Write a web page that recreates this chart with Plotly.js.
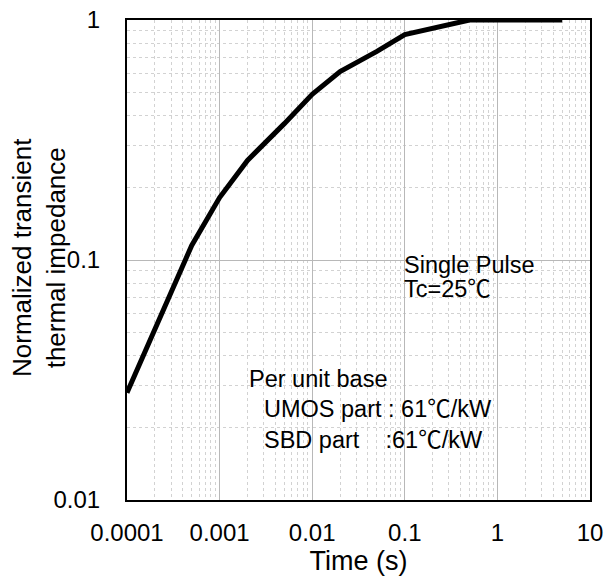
<!DOCTYPE html>
<html>
<head>
<meta charset="utf-8">
<script src="https://cdn.plot.ly/plotly-3.0.1.min.js"></script>
<style>html,body{margin:0;padding:0;background:#fff;}#chart{width:606px;height:582px;}</style>
</head>
<body>
<div id="chart"></div>
<script>
// Data
const timeS = [0.0001, 0.0002, 0.0005, 0.001, 0.002, 0.005, 0.01, 0.02, 0.05, 0.1, 0.5, 1, 5];
const zthNorm = [0.028, 0.052, 0.115, 0.182, 0.26, 0.37, 0.49, 0.61, 0.74, 0.87, 1.0, 1.0, 1.0];

const xTickVals = [0.0001, 0.001, 0.01, 0.1, 1, 10];
const xTickText = ["0.0001", "0.001", "0.01", "0.1", "1", "10"];
const yTickVals = [0.01, 0.1, 1];
const yTickText = ["0.01", "0.1", "1"];

const FONT = "Liberation Sans, Arial, Noto Sans CJK JP, sans-serif";

function minorVals(lo, hi) {
  const v = [];
  for (let e = lo; e < hi; e++) for (let m = 2; m <= 9; m++) v.push(m * Math.pow(10, e));
  return v;
}

const trace = {
  x: timeS, y: zthNorm, type: "scatter", mode: "lines",
  line: {color: "#000", width: 5}, hoverinfo: "skip", showlegend: false
};

const W = 606, H = 582, mL = 127, mR = 16, mT = 20, mB = 82;
const pw = W - mL - mR, ph = H - mT - mB;
const px = v => (v - mL) / pw;
const py = v => (H - mB - v) / ph;

function ann(text, xPix, yPix) {
  return {text: text, xref: "paper", yref: "paper", x: px(xPix), y: py(yPix),
    xanchor: "left", yanchor: "middle", showarrow: false,
    font: {family: FONT, size: 23.5, color: "#000"}};
}

const layout = {
  width: W, height: H,
  margin: {l: mL, r: mR, t: mT, b: mB, pad: 0},
  paper_bgcolor: "#fff", plot_bgcolor: "#fff",
  font: {family: FONT, size: 24, color: "#000"},
  xaxis: {
    type: "log", range: [-4, 1], tickmode: "array", tickvals: xTickVals, ticktext: xTickText,
    showline: true, linewidth: 2, linecolor: "#000", mirror: true, ticks: "", zeroline: false,
    showgrid: true, gridcolor: "#b8b8b8", gridwidth: 1,
    minor: {tickmode: "array", tickvals: minorVals(-4, 1), showgrid: true, gridcolor: "#d2d2d2", griddash: "dot", gridwidth: 1, ticks: ""},
    tickfont: {family: FONT, size: 24, color: "#000"},
    ticklabelstandoff: 10,
    title: {text: "Time (s)", font: {family: FONT, size: 27, color: "#000"}, standoff: 6}
  },
  yaxis: {
    type: "log", range: [-2, 0], tickmode: "array", tickvals: yTickVals, ticktext: yTickText,
    showline: true, linewidth: 2, linecolor: "#000", mirror: true, ticks: "", zeroline: false,
    showgrid: true, gridcolor: "#b8b8b8", gridwidth: 1,
    minor: {tickmode: "array", tickvals: minorVals(-2, 0), showgrid: true, gridcolor: "#d2d2d2", griddash: "dot", gridwidth: 1, ticks: ""},
    tickfont: {family: FONT, size: 24, color: "#000"},
    ticklabelstandoff: 20
  },
  shapes: [
    {type: "rect", xref: "paper", yref: "paper", x0: px(398), x1: px(535), y0: py(302), y1: py(250),
     fillcolor: "#fff", line: {width: 0}, layer: "between"},
    {type: "rect", xref: "paper", yref: "paper", x0: px(243), x1: px(504), y0: py(458), y1: py(366),
     fillcolor: "#fff", line: {width: 0}, layer: "between"}
  ],
  annotations: [
    {text: "Normalized transient<br>thermal impedance", xref: "paper", yref: "paper",
     x: px(39), y: py(258), xanchor: "center", yanchor: "middle", textangle: -90, showarrow: false,
     font: {family: FONT, size: 26, color: "#000"}},
    ann("Single Pulse", 401.7, 264.5),
    ann("Tc=25\u2103", 401.7, 288.5),
    ann("Per unit base", 247.3, 378.5),
    ann("UMOS part : 61\u2103/kW", 261.7, 408.5),
    ann("SBD part\u00a0\u00a0\u00a0\u00a0:61\u2103/kW", 261.7, 440)
  ]
};

Plotly.newPlot("chart", [trace], layout, {displayModeBar: false, staticPlot: true});
</script>
</body>
</html>
